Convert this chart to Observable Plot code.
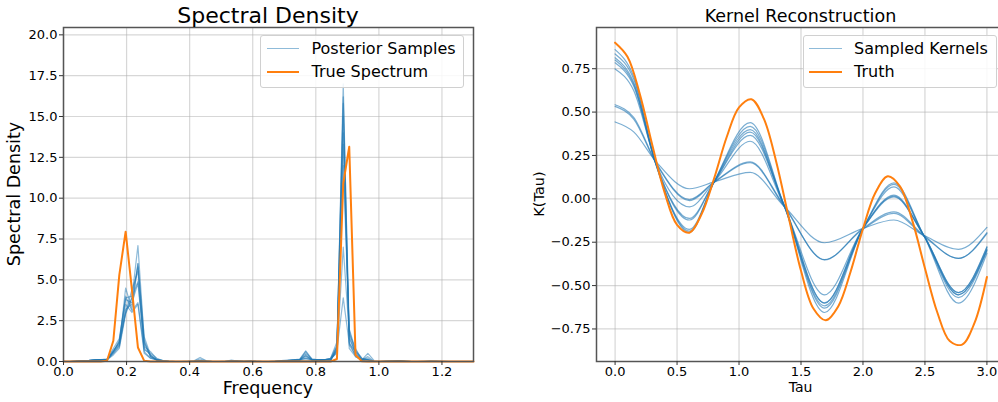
<!DOCTYPE html>
<html>
<head>
<meta charset="utf-8">
<script src="https://cdn.jsdelivr.net/npm/d3@7"></script>
<script src="https://cdn.jsdelivr.net/npm/@observablehq/plot@0.6"></script>
<style>
  html, body { margin: 0; padding: 0; background: #fff; }
  body { width: 998px; height: 402px; overflow: hidden; position: relative; font-family: "DejaVu Sans", sans-serif; color: #000; }
  .panel { position: absolute; top: 0; }
  .panel svg { max-width: none !important; display: block; }
  .t { position: absolute; white-space: nowrap; line-height: 1; }
  .legend { position: absolute; border: 1px solid #d0d0d0; border-radius: 3px; background: rgba(255,255,255,0.85); box-sizing: border-box; }
  .sw { position: absolute; }
</style>
</head>
<body>
<div id="left" class="panel" style="left:0px;width:490px"></div>
<div id="right" class="panel" style="left:500px;width:505px"></div>
<script>
// ---------- Spectral density data ----------
const freq = [0, 0.020, 0.039, 0.059, 0.079, 0.099, 0.118, 0.138, 0.158, 0.177,
  0.197, 0.217, 0.236, 0.256, 0.276, 0.296, 0.315, 0.335, 0.355, 0.374,
  0.394, 0.414, 0.433, 0.453, 0.473, 0.493, 0.512, 0.532, 0.552, 0.571,
  0.591, 0.611, 0.630, 0.650, 0.670, 0.690, 0.709, 0.729, 0.749, 0.768,
  0.788, 0.808, 0.827, 0.847, 0.867, 0.887, 0.906, 0.926, 0.946, 0.965,
  0.985, 1.005, 1.024, 1.044, 1.064, 1.084, 1.103, 1.123, 1.143, 1.162,
  1.182, 1.202, 1.221, 1.241, 1.261, 1.281, 1.300];

const sample1 = [0,0,0.02,0.04,0.05,0.08,0.1,0.12,0.6,1.2, 3.0,3.9,7.1,1.3,0.3,0.1,0.05,0.02,0,0, 0,0.02,0.05,0.02,0,0,0,0.08,0.02,0, 0,0,0,0,0,0.03,0.05,0.08,0.1,0.6, 0.1,0.1,0.1,0.1,0.6,17.0,1.0,0.4,0.1,0.1, 0,0,0.03,0.05,0.03,0,0,0,0,0.03, 0.03,0,0,0,0,0,0];
const sample2 = [0,0,0,0.03,0.05,0.1,0.12,0.1,0.5,1.0, 4.5,3.2,6.0,1.5,0.4,0.1,0.05,0,0,0, 0,0,0.03,0,0,0,0,0,0.05,0, 0,0,0,0,0.02,0.05,0.05,0.1,0.12,0.5, 0.15,0.1,0.1,0.1,0.9,16.2,1.9,0.5,0.1,0.1, 0,0,0,0.02,0.05,0.02,0,0,0,0, 0,0,0,0,0,0,0];
const sample3 = [0,0,0.03,0.05,0.06,0.1,0.1,0.15,0.8,1.4, 3.9,4.0,5.8,0.9,0.6,0.15,0.05,0.02,0,0, 0.02,0.05,0.25,0.05,0,0,0.02,0.05,0.02,0, 0,0,0,0,0.03,0.05,0.08,0.1,0.1,0.35, 0.1,0.1,0.1,0.2,1.0,15.0,1.4,0.6,0.2,0.1, 0,0,0.02,0.03,0.02,0,0,0,0.03,0.05, 0.03,0,0,0,0,0,0];
const sample4 = [0,0,0,0.02,0.04,0.06,0.08,0.1,0.4,0.8, 2.9,3.9,4.9,1.2,0.3,0.1,0,0,0,0, 0,0,0.05,0,0,0,0,0.03,0.06,0.02, 0,0,0,0,0,0.03,0.05,0.06,0.1,0.2, 0.1,0.08,0.1,0.1,0.7,14.0,1.2,0.3,0.1,0, 0,0,0.03,0.03,0,0,0,0,0,0, 0,0,0,0,0,0,0];
const sample5 = [0,0,0.02,0.05,0.05,0.08,0.1,0.1,0.6,1.3, 4.0,3.1,3.6,0.7,0.5,0.2,0.05,0,0,0, 0,0.03,0.15,0.03,0,0,0,0.05,0,0, 0.05,0.02,0,0,0,0.02,0.05,0.1,0.15,0.65, 0.15,0.1,0.1,0.1,0.8,13.3,1.6,0.4,0.1,0.2, 0,0,0,0.03,0.05,0.03,0,0,0,0, 0.03,0.03,0,0,0,0,0];
const sample6 = [0,0,0,0.03,0.06,0.1,0.1,0.12,0.7,1.1, 3.5,3.0,3.5,0.5,0.2,0.1,0,0,0,0, 0,0,0.04,0,0,0,0,0,0,0.04, 0.06,0.02,0,0,0,0.03,0.04,0.08,0.1,0.3, 0.1,0.1,0.1,0.2,1.2,12.0,2.0,0.7,0.2,0.1, 0,0.02,0.03,0,0,0,0,0,0,0, 0,0,0,0,0,0,0];
const sample7 = [0,0,0.02,0.03,0.05,0.08,0.12,0.1,0.5,0.9, 3.2,3.5,6.0,1.1,0.3,0.08,0,0,0,0, 0,0,0.03,0,0,0,0,0,0,0, 0,0,0,0,0,0,0.03,0.05,0.05,0.1, 0.05,0.05,0.1,0.2,0.5,7.0,1.7,0.8,0.1,0.5, 0.05,0,0,0,0.05,0.03,0,0,0,0, 0,0,0,0,0,0,0];
const sample8 = [0,0,0,0.02,0.05,0.06,0.1,0.1,0.6,1.0, 3.0,4.4,5.5,0.6,0.2,0.1,0.05,0,0,0, 0,0,0.02,0,0,0,0,0,0,0, 0,0,0,0,0,0.02,0.03,0.05,0.1,0.2, 0.1,0.05,0.1,0.1,0.7,3.9,1.1,0.6,0.1,0.3, 0,0,0,0,0,0,0,0,0,0, 0,0,0,0,0,0,0];
const sample9 = [0,0,0.02,0.04,0.06,0.1,0.12,0.15,0.6,1.2, 3.8,3.6,4.8,0.8,0.4,0.1,0,0,0,0, 0,0,0.04,0.02,0,0,0,0,0,0, 0,0,0,0,0,0.03,0.04,0.06,0.1,0.4, 0.1,0.1,0.1,0.1,0.9,15.8,0.8,0.3,0.1,0.1, 0,0,0,0,0.03,0.03,0,0,0,0, 0,0,0,0,0,0,0];
const trueSpectrum = [0,0,0,0,0,0,0,0.05,1.27,5.3, 7.95,4.4,0.86,0.04,0,0,0,0,0,0, 0,0,0,0,0,0,0,0,0,0, 0,0,0,0,0,0,0,0,0,0, 0,0,0,0,0.15,10.9,13.15,0.4,0.02,0, 0,0,0,0,0,0,0,0,0,0, 0,0,0,0,0,0,0];
const spectralSamples = [sample1, sample2, sample3, sample4, sample5, sample6, sample7, sample8, sample9];

const specXTicks = [0, 0.2, 0.4, 0.6, 0.8, 1.0, 1.2];
const specYTicks = [0, 2.5, 5, 7.5, 10, 12.5, 15, 17.5, 20];

// ---------- Kernel data ----------
const tauKey = [0, 0.15, 0.33, 0.6, 0.80, 1.09, 1.36, 1.69, 2.0, 2.25, 2.49, 2.77, 3.0];
const kernelA  = [0.443, 0.386, 0.215, 0.058, 0.098, 0.152, -0.04, -0.253, -0.17, -0.122, -0.21, -0.291, -0.165];
const kernelB  = [0.542, 0.470, 0.210, -0.004, 0.098, 0.213, -0.035, -0.352, -0.17, -0.075, -0.21, -0.343, -0.195];
const kernelC  = [0.533, 0.460, 0.205, -0.010, 0.095, 0.208, -0.04, -0.350, -0.175, -0.084, -0.215, -0.343, -0.200];
const kernelH1 = [0.860, 0.705, 0.200, -0.193, 0.100, 0.439, -0.03, -0.655, -0.17, 0.092, -0.21, -0.601, -0.314];
const kernelH2 = [0.835, 0.690, 0.200, -0.186, 0.100, 0.418, -0.03, -0.630, -0.17, 0.083, -0.21, -0.569, -0.300];
const kernelH3 = [0.813, 0.670, 0.195, -0.176, 0.098, 0.399, -0.035, -0.617, -0.17, 0.069, -0.21, -0.553, -0.295];
const kernelH4 = [0.800, 0.660, 0.200, -0.122, 0.098, 0.385, -0.03, -0.601, -0.17, 0.021, -0.21, -0.553, -0.290];
const kernelH5 = [0.784, 0.650, 0.200, -0.113, 0.098, 0.366, -0.03, -0.600, -0.17, 0.016, -0.21, -0.540, -0.280];
const kernelH6 = [0.749, 0.625, 0.205, -0.046, 0.098, 0.332, -0.035, -0.553, -0.17, 0.011, -0.21, -0.540, -0.276];
const sampledKernels = [kernelA, kernelB, kernelC, kernelH1, kernelH2, kernelH3, kernelH4, kernelH5, kernelH6];

const tauTruth = [0, 0.1, 0.2, 0.3, 0.4, 0.5, 0.6, 0.7, 0.8, 0.9, 1.0, 1.1, 1.2, 1.3, 1.4, 1.5,
  1.6, 1.7, 1.8, 1.9, 2.0, 2.1, 2.2, 2.3, 2.4, 2.5, 2.6, 2.7, 2.8, 2.9, 3.0];
const truthKernel = [0.90, 0.819, 0.602, 0.31, 0.036, -0.15, -0.195, -0.085, 0.12, 0.355, 0.527, 0.574, 0.462, 0.214, -0.105, -0.415,
  -0.632, -0.70, -0.62, -0.42, -0.172, 0.035, 0.13, 0.07, -0.13, -0.40, -0.655, -0.82, -0.84, -0.715, -0.45];

const kernXTicks = [0, 0.5, 1.0, 1.5, 2.0, 2.5, 3.0];
const kernYTicks = [-0.75, -0.5, -0.25, 0, 0.25, 0.5, 0.75];

// ---------- build tables ----------
const specRows = spectralSamples.flatMap((s, i) => s.map((v, k) => ({s: i, f: freq[k], v})));
const trueRows = trueSpectrum.map((v, k) => ({f: freq[k], v}));
const kernRows = sampledKernels.flatMap((s, i) => s.map((v, k) => ({s: i, t: tauKey[k], v})));
const truthRows = truthKernel.map((v, k) => ({t: tauTruth[k], v}));

const BLUE = "#1f77b4", ORANGE = "#ff7f0e";
const gridStyle = {stroke: "#b0b0b0", strokeOpacity: 0.5, strokeWidth: 1.2};
const baseStyle = {fontFamily: "DejaVu Sans", fontSize: "13px", color: "#000", background: "transparent", overflow: "visible"};

const leftPlot = Plot.plot({
  width: 490, height: 402,
  marginLeft: 63, marginRight: 17, marginTop: 27, marginBottom: 41,
  style: baseStyle,
  x: {domain: [0, 1.3]},
  y: {domain: [0, 20.45]},
  marks: [
    Plot.gridX(specXTicks, gridStyle),
    Plot.gridY(specYTicks, gridStyle),
    Plot.line(specRows, {x: "f", y: "v", z: "s", stroke: BLUE, strokeOpacity: 0.5, strokeWidth: 1.2}),
    Plot.line(trueRows, {x: "f", y: "v", stroke: ORANGE, strokeWidth: 2}),
    Plot.frame({stroke: "#555", strokeWidth: 1.5}),
    Plot.axisX(specXTicks, {tickFormat: d3.format(".1f"), tickSize: 4, tickPadding: 1, label: null, stroke: "#333"}),
    Plot.axisY(specYTicks, {tickFormat: d3.format(".1f"), tickSize: 4, tickPadding: 2, label: null, stroke: "#333"})
  ]
});
document.getElementById("left").append(leftPlot);

const rightPlot = Plot.plot({
  width: 505, height: 402,
  marginLeft: 96, marginRight: 0, marginTop: 27, marginBottom: 41,
  style: baseStyle,
  x: {domain: [-0.15, 3.15]},
  y: {domain: [-0.9375, 0.9875]},
  marks: [
    Plot.gridX(kernXTicks, gridStyle),
    Plot.gridY(kernYTicks, gridStyle),
    Plot.line(kernRows, {x: "t", y: "v", z: "s", stroke: BLUE, strokeOpacity: 0.6, strokeWidth: 1.2, curve: "monotone-x"}),
    Plot.line(truthRows, {x: "t", y: "v", stroke: ORANGE, strokeWidth: 2, curve: "catmull-rom"}),
    Plot.frame({stroke: "#555", strokeWidth: 1.5}),
    Plot.axisX(kernXTicks, {tickFormat: d3.format(".1f"), tickSize: 4, tickPadding: 1, label: null, stroke: "#333"}),
    Plot.axisY(kernYTicks, {tickFormat: d3.format(".2f"), tickSize: 4, tickPadding: 2, label: null, stroke: "#333"})
  ]
});
document.getElementById("right").append(rightPlot);

// ---------- text ----------
function addText(txt, x, baseline, size, anchor) {
  const d = document.createElement("div");
  d.className = "t";
  d.textContent = txt;
  d.style.fontSize = size + "px";
  d.style.left = x + "px";
  d.style.top = (baseline - 0.846 * size) + "px";
  if (anchor === "middle") d.style.transform = "translateX(-50%)";
  document.body.append(d);
}
function addVText(txt, cx, cy, size) {
  const d = document.createElement("div");
  d.className = "t";
  d.textContent = txt;
  d.style.fontSize = size + "px";
  d.style.left = cx + "px";
  d.style.top = cy + "px";
  d.style.transform = "translate(-50%,-50%) rotate(-90deg)";
  document.body.append(d);
}
addText("Spectral Density", 268, 23.3, 22, "middle");
addText("Frequency", 268, 394.5, 17.5, "middle");
addVText("Spectral Density", 15, 194, 17.5);
addText("Kernel Reconstruction", 800.5, 23.3, 17.5, "middle");
addText("Tau", 800.5, 392, 14, "middle");
addVText("K(Tau)", 538.5, 194, 14.5);

// ---------- legends ----------
function addLegend(x0, x1, y0, y1, swX0, swX1, textX, entries) {
  const box = document.createElement("div");
  box.className = "legend";
  Object.assign(box.style, {left: x0 + "px", top: y0 + "px", width: (x1 - x0) + "px", height: (y1 - y0) + "px"});
  document.body.append(box);
  entries.forEach(e => {
    const sw = document.createElement("div");
    sw.className = "sw";
    Object.assign(sw.style, {left: swX0 + "px", width: (swX1 - swX0) + "px", top: (e.y - e.w / 2) + "px",
      height: e.w + "px", background: e.color, opacity: e.opacity});
    document.body.append(sw);
    addText(e.label, textX, e.baseline, 16, "start");
  });
}
addLegend(260, 464, 35, 87.5, 267, 299, 311.5, [
  {label: "Posterior Samples", y: 48.3, baseline: 54.4, color: BLUE, opacity: 0.5, w: 1.2},
  {label: "True Spectrum", y: 71.7, baseline: 77.7, color: ORANGE, opacity: 1, w: 2}
]);
addLegend(803, 997, 35, 87.5, 809, 842, 854, [
  {label: "Sampled Kernels", y: 48.3, baseline: 54.4, color: BLUE, opacity: 0.5, w: 1.2},
  {label: "Truth", y: 71.7, baseline: 77.7, color: ORANGE, opacity: 1, w: 2}
]);
</script>
</body>
</html>
